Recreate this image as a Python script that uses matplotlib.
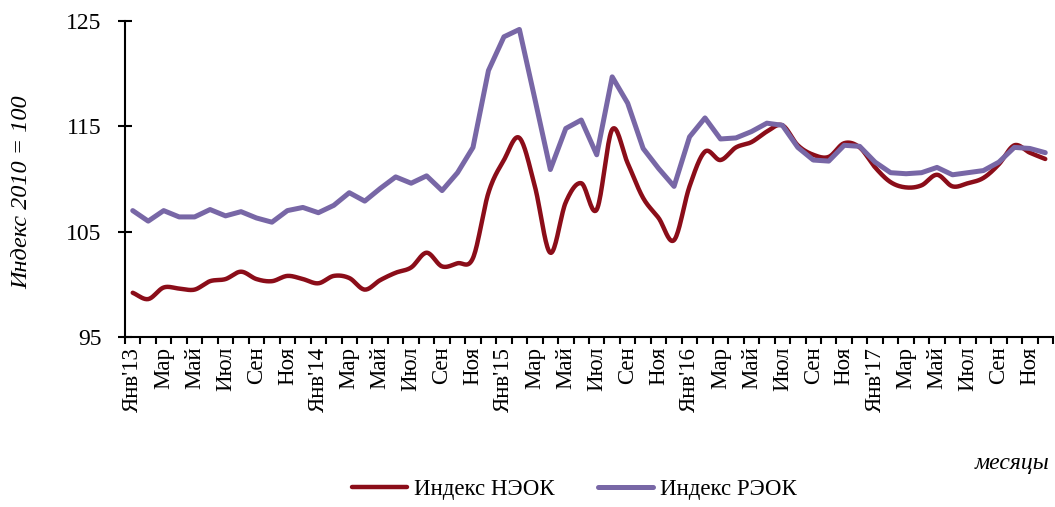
import matplotlib
matplotlib.use("Agg")
from matplotlib import pyplot as plt
import numpy as np

plt.rcParams['font.family'] = ['Liberation Serif', 'DejaVu Serif']

# Месячные индексы, янв 2013 - дек 2017
neok = [99.2, 98.6, 99.7, 99.6, 99.5, 100.3, 100.5, 101.2, 100.5, 100.3, 100.8, 100.5,
        100.1, 100.8, 100.6, 99.5, 100.4, 101.1, 101.6, 103.0, 101.7, 102.0, 102.5, 108.7,
        111.8, 113.9, 109.3, 103.0, 107.8, 109.6, 107.1, 114.7, 111.5, 108.2, 106.3, 104.2,
        109.3, 112.6, 111.8, 113.0, 113.5, 114.5, 115.1, 113.2, 112.3, 112.1, 113.4, 113.0,
        111.1, 109.7, 109.2, 109.4, 110.4, 109.3, 109.6, 110.1, 111.4, 113.2, 112.5, 111.9]
reok = [107.0, 106.0, 107.0, 106.4, 106.4, 107.1, 106.5, 106.9, 106.3, 105.9, 107.0, 107.3,
        106.8, 107.5, 108.7, 107.9, 109.1, 110.2, 109.6, 110.3, 108.9, 110.6, 113.0, 120.3,
        123.5, 124.2, 117.6, 110.9, 114.8, 115.6, 112.3, 119.7, 117.2, 112.9, 111.0, 109.3,
        114.0, 115.8, 113.8, 113.9, 114.5, 115.3, 115.1, 113.0, 111.8, 111.7, 113.2, 113.1,
        111.6, 110.6, 110.5, 110.6, 111.1, 110.4, 110.6, 110.8, 111.6, 113.0, 112.9, 112.5]

labels = []
for yr in ['13', '14', '15', '16', '17']:
    labels += ["Янв'" + yr, 'Мар', 'Май', 'Июл', 'Сен', 'Ноя']

x = np.arange(len(neok))


def smooth(xs, ys, n=20):
    # сглаживание сплайном Катмулла-Рома
    xs = np.asarray(xs, float)
    ys = np.asarray(ys, float)
    px = np.concatenate([[2 * xs[0] - xs[1]], xs, [2 * xs[-1] - xs[-2]]])
    py = np.concatenate([[2 * ys[0] - ys[1]], ys, [2 * ys[-1] - ys[-2]]])
    t = np.linspace(0, 1, n, endpoint=False)
    ox, oy = [], []
    for i in range(1, len(px) - 2):
        for p, o in ((px, ox), (py, oy)):
            p0, p1, p2, p3 = p[i - 1], p[i], p[i + 1], p[i + 2]
            o.extend(0.5 * (2 * p1 + (-p0 + p2) * t + (2 * p0 - 5 * p1 + 4 * p2 - p3) * t ** 2
                            + (-p0 + 3 * p1 - 3 * p2 + p3) * t ** 3))
    ox.append(xs[-1])
    oy.append(ys[-1])
    return ox, oy


fig = plt.figure(figsize=(10.55, 5.07), dpi=100)
ax = fig.add_axes([125 / 1055, 1 - 337 / 507, 928 / 1055, 316 / 507])

sx, sy = smooth(x, neok)
ax.plot(sx, sy, color='#8b0d19', lw=3.2, solid_capstyle='round', label='Индекс НЭОК')
ax.plot(x, reok, color='#7867a6', lw=3.6, solid_capstyle='round', label='Индекс РЭОК')

ax.set_xlim(-0.5, len(x) - 0.5)
ax.set_ylim(95, 125)
ax.set_yticks([95, 105, 115, 125])
ax.tick_params(axis='y', direction='inout', length=10, width=1.5, labelsize=17, pad=12)

ax.set_xticks(np.arange(-0.5, len(x), 1))
ax.set_xticklabels([])
ax.tick_params(axis='x', which='major', direction='out', length=5, width=1.5)
ax.set_xticks(x[::2], minor=True)
ax.set_xticklabels(labels, minor=True, rotation=90, fontsize=16.5)
ax.tick_params(axis='x', which='minor', length=0, pad=7)

for s in ['top', 'right']:
    ax.spines[s].set_visible(False)
for s in ['left', 'bottom']:
    ax.spines[s].set_linewidth(1.5)

fig.text(22 / 1055, 1 - 192 / 507, 'Индекс 2010 = 100', rotation=90, style='italic',
         fontsize=17.5, ha='center', va='center')
fig.text(1049 / 1055, 1 - 463 / 507, 'месяцы', style='italic', fontsize=17,
         ha='right', va='center')

fig.legend(loc='center', bbox_to_anchor=(574 / 1055, 1 - 489 / 507), ncol=2, frameon=False,
           fontsize=16.5, handlelength=2.4, handletextpad=0.3, columnspacing=1.9)

fig.savefig('out.png', dpi=100)
